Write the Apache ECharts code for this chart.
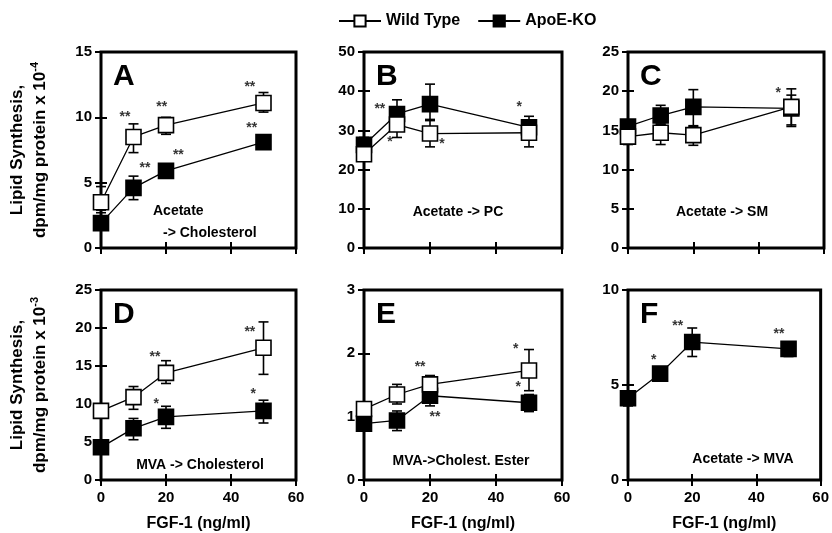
<!DOCTYPE html>
<html>
<head>
<meta charset="utf-8">
<script src="https://cdn.jsdelivr.net/npm/echarts@6/dist/echarts.min.js"></script>
<style>
  html, body { margin: 0; padding: 0; background: #fff; }
  #chart { width: 832px; height: 533px; }
</style>
</head>
<body>
<div id="chart"></div>
<script>
// FGF-1 doses (ng/ml)
const doses = [0, 10, 20, 50]
const xTicks = [0, 20, 40, 60]

// A: Acetate -> Cholesterol (x 10^-4)
const aWT = [3.5, 8.5, 9.4, 11.1]
const aWTLow = [2.9, 7.3, 8.7, 10.4]
const aWTHigh = [4.7, 9.5, 10.0, 11.9]
const aKO = [1.9, 4.6, 5.9, 8.1]
const aKOLow = [1.4, 3.7, 5.7, 7.9]
const aKOHigh = [2.7, 5.5, 6.1, 8.3]
const aStars = [[7.4, 10.0, '**'], [18.7, 10.8, '**'], [45.8, 12.3, '**'],
  [13.5, 6.1, '**'], [23.8, 7.1, '**'], [46.4, 9.2, '**']]

// B: Acetate -> PC
const bWT = [23.9, 31.5, 29.2, 29.4]
const bWTLow = [22.5, 28.2, 25.8, 25.8]
const bWTHigh = [25.5, 33.6, 32.5, 30.8]
const bKO = [26.3, 34.2, 36.7, 30.8]
const bKOLow = [24.8, 31.5, 32.8, 28.2]
const bKOHigh = [28.2, 37.8, 41.8, 33.6]
const bStars = [[4.8, 35.5, '**'], [7.9, 27, '*'], [23.6, 26.5, '*'], [47, 36, '*']]

// C: Acetate -> SM
const cWT = [14.2, 14.7, 14.4, 18.0]
const cWTLow = [13.2, 13.2, 13.1, 15.7]
const cWTHigh = [15.2, 15.8, 15.5, 20.3]
const cKO = [15.5, 16.9, 18.0, 17.8]
const cKOLow = [14.8, 15.8, 15.6, 15.5]
const cKOHigh = [16.3, 18.2, 20.2, 19.5]
const cStars = [[46, 19.8, '*']]

// D: MVA -> Cholesterol (x 10^-3)
const dWT = [9.1, 10.9, 14.1, 17.4]
const dWTLow = [8.6, 9.3, 12.7, 13.9]
const dWTHigh = [9.6, 12.3, 15.7, 20.8]
const dKO = [4.3, 6.8, 8.3, 9.1]
const dKOLow = [4.0, 5.3, 6.8, 7.5]
const dKOHigh = [4.6, 8.1, 9.7, 10.5]
const dStars = [[16.6, 16.2, '**'], [45.8, 19.4, '**'], [17, 10, '*'], [46.8, 11.3, '*']]

// E: MVA -> Cholest. Ester
const eWT = [1.12, 1.35, 1.51, 1.73]
const eWTLow = [1.07, 1.2, 1.38, 1.41]
const eWTHigh = [1.17, 1.51, 1.65, 2.06]
const eKO = [0.89, 0.94, 1.33, 1.22]
const eKOLow = [0.84, 0.78, 1.17, 1.08]
const eKOHigh = [0.94, 1.09, 1.46, 1.35]
const eStars = [[17, 1.78, '**'], [21.5, 0.99, '**'], [46, 2.06, '*'], [46.7, 1.47, '*']]

// F: Acetate -> MVA (KO only)
const fKO = [4.3, 5.6, 7.26, 6.9]
const fKOLow = [3.9, 5.3, 6.5, 6.5]
const fKOHigh = [5.0, 5.9, 8.0, 7.2]
const fStars = [[8, 6.3, '*'], [15.5, 8.1, '**'], [47, 7.7, '**']]

const panels = [
  { letter: 'A', left: 101, top: 52, width: 195, yMax: 15, yInt: 5, wt: [aWT, aWTLow, aWTHigh], ko: [aKO, aKOLow, aKOHigh], stars: aStars },
  { letter: 'B', left: 364, top: 52, width: 198, yMax: 50, yInt: 10, wt: [bWT, bWTLow, bWTHigh], ko: [bKO, bKOLow, bKOHigh], stars: bStars },
  { letter: 'C', left: 628, top: 52, width: 196, yMax: 25, yInt: 5, wt: [cWT, cWTLow, cWTHigh], ko: [cKO, cKOLow, cKOHigh], stars: cStars },
  { letter: 'D', left: 101, top: 290, width: 195, yMax: 25, yInt: 5, wt: [dWT, dWTLow, dWTHigh], ko: [dKO, dKOLow, dKOHigh], stars: dStars },
  { letter: 'E', left: 364, top: 290, width: 198, yMax: 3, yInt: 1, wt: [eWT, eWTLow, eWTHigh], ko: [eKO, eKOLow, eKOHigh], stars: eStars },
  { letter: 'F', left: 628, top: 290, width: 196, yMax: 10, yInt: 5, wt: null, ko: [fKO, fKOLow, fKOHigh], stars: fStars }
]

const notes = [
  { text: 'Acetate', x: 153, y: 211, align: 'left' },
  { text: '-> Cholesterol', x: 163, y: 233, align: 'left' },
  { text: 'Acetate -> PC', x: 458, y: 212, align: 'center' },
  { text: 'Acetate -> SM', x: 722, y: 212, align: 'center' },
  { text: 'MVA -> Cholesterol', x: 200, y: 465, align: 'center' },
  { text: 'MVA->Cholest. Ester', x: 461, y: 461, align: 'center' },
  { text: 'Acetate -> MVA', x: 743, y: 459, align: 'center' }
]

const font = '"Liberation Sans", Arial, sans-serif'
const panelHeight = 196

const grids = []
const xAxes = []
const yAxes = []
const series = []
const graphics = []

function tickStyle() {
  return { show: true, inside: true, length: 6, lineStyle: { color: '#000', width: 2 } }
}

function errorSeries(gi, vals, lows, highs) {
  return {
    type: 'custom',
    xAxisIndex: gi * 2,
    yAxisIndex: gi * 2,
    z: 3,
    silent: true,
    encode: { x: 0, y: [1, 2] },
    data: doses.map((d, i) => [d, lows[i], highs[i]]),
    renderItem(params, api) {
      const x = api.value(0)
      const lo = api.coord([x, api.value(1)])
      const hi = api.coord([x, api.value(2)])
      const w = 5
      const st = { stroke: '#000', lineWidth: 1.6 }
      return {
        type: 'group',
        children: [
          { type: 'line', shape: { x1: lo[0], y1: lo[1], x2: hi[0], y2: hi[1] }, style: st },
          { type: 'line', shape: { x1: hi[0] - w, y1: hi[1], x2: hi[0] + w, y2: hi[1] }, style: st },
          { type: 'line', shape: { x1: lo[0] - w, y1: lo[1], x2: lo[0] + w, y2: lo[1] }, style: st }
        ]
      }
    }
  }
}

function markSeries(gi, name, vals, filled) {
  return {
    name: name,
    type: 'line',
    xAxisIndex: gi * 2,
    yAxisIndex: gi * 2,
    z: filled ? 4 : 5,
    symbol: 'rect',
    symbolSize: 15,
    showAllSymbol: true,
    animation: false,
    lineStyle: { color: '#000', width: 1.3 },
    itemStyle: { color: filled ? '#000' : '#fff', borderColor: '#000', borderWidth: 1.6, opacity: 1 },
    data: doses.map((d, i) => [d, vals[i]])
  }
}

panels.forEach((p, gi) => {
  const bottomRow = p.top > 200
  const firstCol = p.left < 200
  grids.push({
    left: p.left, top: p.top, width: p.width, height: panelHeight,
    show: true, borderColor: '#000', borderWidth: 3, backgroundColor: 'transparent'
  })
  xAxes.push({
    gridIndex: gi, type: 'value', min: 0, max: 60, interval: 20, position: 'bottom',
    axisLine: { show: false }, splitLine: { show: false }, axisTick: tickStyle(),
    axisLabel: { show: bottomRow, color: '#000', fontFamily: font, fontWeight: 'bold', fontSize: 15, margin: 10 },
    name: bottomRow ? 'FGF-1 (ng/ml)' : '', nameLocation: 'middle', nameGap: 36,
    nameTextStyle: { color: '#000', fontFamily: font, fontWeight: 'bold', fontSize: 16 }
  })
  xAxes.push({
    gridIndex: gi, type: 'value', min: 0, max: 60, interval: 20, position: 'top',
    axisLine: { show: false }, splitLine: { show: false }, axisTick: tickStyle(),
    axisLabel: { show: false }
  })
  yAxes.push({
    gridIndex: gi, type: 'value', min: 0, max: p.yMax, interval: p.yInt, position: 'left',
    axisLine: { show: false }, splitLine: { show: false }, axisTick: tickStyle(),
    axisLabel: { color: '#000', fontFamily: font, fontWeight: 'bold', fontSize: 15, margin: 9 },
    name: firstCol ? (bottomRow ? '{t|Lipid Synthesis,}\n{t|dpm/mg protein x 10}{s|-3}' : '{t|Lipid Synthesis,}\n{t|dpm/mg protein x 10}{s|-4}') : '',
    nameLocation: 'middle', nameRotate: 90, nameGap: 49,
    nameTextStyle: {
      color: '#000', fontFamily: font, fontWeight: 'bold', fontSize: 17, lineHeight: 23,
      rich: {
        t: { color: '#000', fontFamily: font, fontWeight: 'bold', fontSize: 17, lineHeight: 23 },
        s: { color: '#000', fontFamily: font, fontWeight: 'bold', fontSize: 11, verticalAlign: 'top', lineHeight: 23, padding: [0, 0, 8, 0] }
      }
    }
  })
  yAxes.push({
    gridIndex: gi, type: 'value', min: 0, max: p.yMax, interval: p.yInt, position: 'right',
    axisLine: { show: false }, splitLine: { show: false }, axisTick: tickStyle(),
    axisLabel: { show: false }
  })

  if (p.wt) series.push(errorSeries(gi, p.wt[0], p.wt[1], p.wt[2]))
  series.push(errorSeries(gi, p.ko[0], p.ko[1], p.ko[2]))
  series.push(markSeries(gi, 'ApoE-KO', p.ko[0], true))
  if (p.wt) series.push(markSeries(gi, 'Wild Type', p.wt[0], false))

  series.push({
    type: 'scatter',
    xAxisIndex: gi * 2,
    yAxisIndex: gi * 2,
    symbolSize: 0,
    silent: true,
    z: 6,
    data: p.stars,
    label: {
      show: true, position: 'inside', formatter: (d) => d.value[2],
      color: '#000', fontFamily: font, fontWeight: 'bold', fontSize: 14
    }
  })

  graphics.push({
    type: 'text', left: p.left + 12, top: p.top + 10,
    style: { text: p.letter, fill: '#000', font: 'bold 30px ' + font }
  })
})

notes.forEach((n) => {
  graphics.push({
    type: 'text', x: n.x, y: n.y,
    style: { text: n.text, fill: '#000', font: 'bold 14px ' + font, textAlign: n.align, textVerticalAlign: 'middle' }
  })
})

const chart = echarts.init(document.getElementById('chart'))
chart.setOption({
  animation: false,
  backgroundColor: '#fff',
  legend: {
    top: 8, left: 333,
    itemWidth: 42, itemHeight: 14, itemGap: 17,
    data: ['Wild Type', 'ApoE-KO'],
    textStyle: { color: '#000', fontFamily: font, fontWeight: 'bold', fontSize: 16 }
  },
  grid: grids,
  xAxis: xAxes,
  yAxis: yAxes,
  series: series,
  graphic: graphics
})
</script>
</body>
</html>
